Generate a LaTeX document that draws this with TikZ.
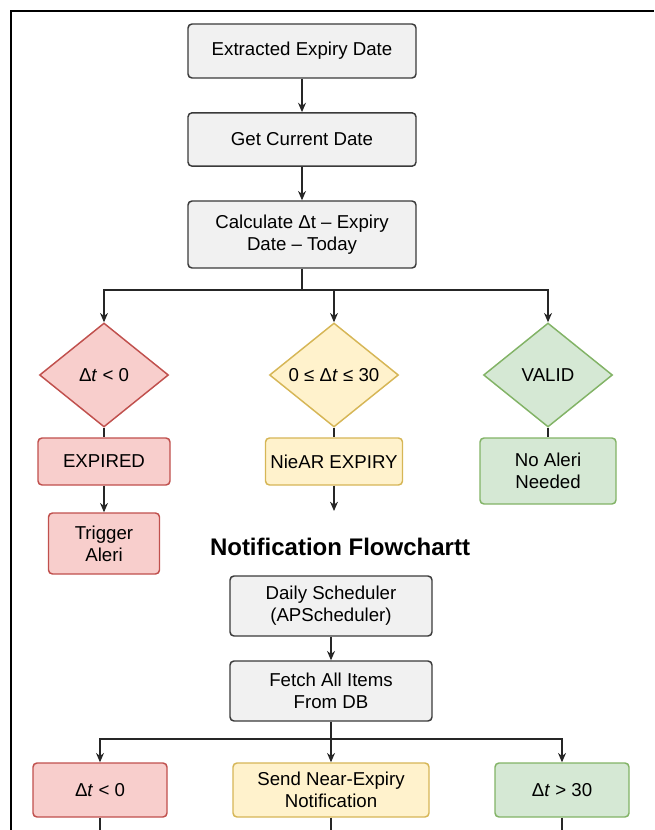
\documentclass[tikz,border=0pt]{standalone}
\usepackage{fontspec}
\setmainfont{Liberation Sans}
\usetikzlibrary{shapes.geometric,arrows.meta}

\definecolor{greyfill}{HTML}{F1F1F1}
\definecolor{greyline}{HTML}{3A3A3A}
\definecolor{redfill}{HTML}{F8CECC}
\definecolor{redline}{HTML}{C0504D}
\definecolor{yellowfill}{HTML}{FFF2CC}
\definecolor{yellowline}{HTML}{D6B656}
\definecolor{greenfill}{HTML}{D5E8D4}
\definecolor{greenline}{HTML}{82B366}

\tikzset{every picture/.style={line width=0.75pt},
  box/.style={draw=greyline, fill=greyfill, rounded corners=3pt, line width=1.1pt,
    align=center, inner sep=2pt, font=\fontsize{14}{16.5}\selectfont},
  redbox/.style={box, draw=redline, fill=redfill},
  yellowbox/.style={box, draw=yellowline, fill=yellowfill},
  greenbox/.style={box, draw=greenline, fill=greenfill},
  decision/.style={diamond, inner sep=0pt, line width=1.1pt, align=center,
    minimum width=96.75pt, minimum height=78pt, font=\fontsize{14}{16.5}\selectfont},
  arr/.style={-{Stealth[length=7pt,width=6pt]}},
  link/.style={draw=black!85, line width=0.8pt}
}

\begin{document}
\begin{tikzpicture}[
            x=0.75pt,
            y=0.75pt,
            yscale=-1,
            xscale=1
        ]
            \useasboundingbox (0,0) rectangle (654,830);
            % frame
            \draw [line width=1.6pt] (11,830) -- (11,11) -- (654,11);

            % expiry check
            \node [box, minimum width=171pt, minimum height=40.5pt] (extract) at (302,51) {Extracted Expiry Date};
            \node [box, minimum width=171pt, minimum height=40pt] (today) at (302,139.5) {Get Current Date};
            \node [box, minimum width=171pt, minimum height=50.25pt] (calc) at (302,234.5) {Calculate Δt – Expiry\\Date – Today};

            \node [decision, draw=redline, fill=redfill] (neg) at (104,375) {Δ\textit{t} < 0};
            \node [decision, draw=yellowline, fill=yellowfill] (near) at (334,375) {0 ≤ Δ\textit{t} ≤ 30};
            \node [decision, draw=greenline, fill=greenfill] (valid) at (548,375) {VALID};

            \node [redbox, minimum width=99pt, minimum height=35.25pt] (expired) at (104,461.5) {EXPIRED};
            \node [yellowbox, minimum width=102.75pt, minimum height=35.25pt] (nearexp) at (334,461.5) {NieAR EXPIRY};
            \node [greenbox, minimum width=102pt, minimum height=49.5pt] (noalert) at (548,471) {No Aleri\\Needed};
            \node [redbox, minimum width=83.25pt, minimum height=45.75pt] (trigger) at (104,543.5) {Trigger\\Aleri};

            \coordinate (split1) at (302,290);
            \coordinate (nearend) at (334,511);

            \draw [link, arr] (extract) -- (today);
            \draw [link, arr] (today) -- (calc);
            \draw [link] (calc) -- (split1);
            \draw [link, arr] (split1) -| (neg.north);
            \draw [link, arr] (split1) -| (near.north);
            \draw [link, arr] (split1) -| (valid.north);
            \draw [link] (neg) -- (expired);
            \draw [link] (near) -- (nearexp);
            \draw [link] (valid) -- (noalert);
            \draw [link, arr] (expired) -- (trigger);
            \draw [link, arr] (nearexp) -- (nearend);

            % notification part
            \node [font=\fontsize{18}{21}\selectfont\bfseries] (title) at (340,547) {Notification Flowchartt};

            \node [box, minimum width=151.5pt, minimum height=45pt] (sched) at (331,606) {Daily Scheduler\\(APScheduler)};
            \node [box, minimum width=151.5pt, minimum height=45pt] (fetch) at (331,691) {Fetch All Items\\From DB};

            \node [redbox, minimum width=100.5pt, minimum height=40.5pt] (past) at (100,790) {Δ\textit{t} < 0};
            \node [yellowbox, minimum width=147pt, minimum height=40.5pt] (send) at (331,790) {Send Near-Expiry\\Notification};
            \node [greenbox, minimum width=100.5pt, minimum height=40.5pt] (later) at (562,790) {Δ\textit{t} > 30};

            \coordinate (split2) at (331,739);
            \coordinate (pastend) at (100,830);
            \coordinate (sendend) at (331,830);
            \coordinate (laterend) at (562,830);

            \draw [link, arr] (sched) -- (fetch);
            \draw [link] (fetch) -- (split2);
            \draw [link, arr] (split2) -| (past.north);
            \draw [link, arr] (split2) -- (send.north);
            \draw [link, arr] (split2) -| (later.north);
            \draw [link] (past) -- (pastend);
            \draw [link] (send) -- (sendend);
            \draw [link] (later) -- (laterend);
        \end{tikzpicture}
\end{document}
